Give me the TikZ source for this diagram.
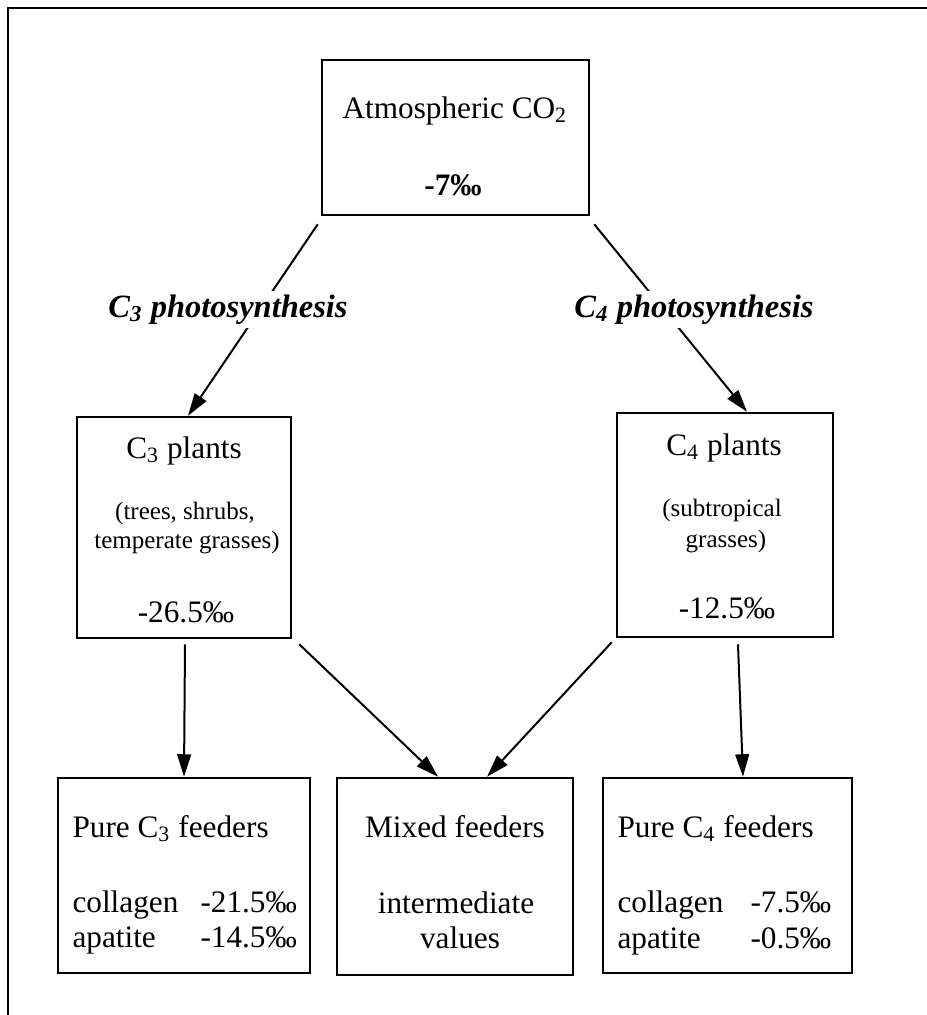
\documentclass[tikz,border=0pt]{standalone}
\usepackage{fontspec}
\setmainfont{Liberation Serif}
\usetikzlibrary{arrows.meta}
\newcommand{\pxu}{0.4pt}
\tikzstyle{box}=[draw,line width=1pt,inner sep=0pt]
\tikzstyle{edge}=[draw,line width=0.8pt,-{Triangle[length=9pt,width=5.5pt]}]
\tikzstyle{txt}=[inner sep=0pt,font=\fontsize{12.5}{15}\selectfont]
\tikzstyle{smalltxt}=[inner sep=0pt,font=\fontsize{10}{12}\selectfont]
\tikzstyle{route}=[fill=white,inner sep=1.5pt,font=\fontsize{13}{15}\selectfont\bfseries\itshape]

\begin{document}
\begin{tikzpicture}[x=\pxu,y=-\pxu]
    \useasboundingbox (0,0) rectangle (927,1015);

    % frame
    \draw[line width=1pt] (8,1015) -- (8,8) -- (927,8);

    % boxes
    \foreach \x/\y/\w/\h/\name in {455.5/137.5/267/155/atmco2, 184/527.5/214/221/cthree, 725/525/216/224/cfour,
                                 184/875.5/252/195/purethree, 455/876.5/236/197/mixed, 727.5/875.5/249/195/purefour}
        \node[box, minimum width=\w*\pxu, minimum height=\h*\pxu] (\name) at (\x,\y) {};

    % texts
    \node[txt, anchor=base] (atmname) at (455,118) {Atmospheric CO\textsubscript{2}};
    \node[txt, anchor=base, font=\fontsize{12.5}{15}\selectfont\bfseries] (atmval) at (453,195) {-7‰};

    \node[txt, anchor=base] (cthreename) at (184,458) {C\textsubscript{3} plants};
    \node[smalltxt, anchor=base] (cthreekind) at (185,519) {(trees, shrubs,};
    \node[smalltxt, anchor=base] (cthreekindb) at (187,548) {temperate grasses)};
    \node[txt, anchor=base] (cthreeval) at (186,622) {-26.5‰};

    \node[txt, anchor=base] (cfourname) at (724,455) {C\textsubscript{4} plants};
    \node[smalltxt, anchor=base] (cfourkind) at (722,516) {(subtropical};
    \node[smalltxt, anchor=base] (cfourkindb) at (726,547) {grasses)};
    \node[txt, anchor=base] (cfourval) at (727,618) {-12.5‰};

    \node[txt, anchor=base west] (purethreename) at (72,837) {Pure C\textsubscript{3} feeders};
    \node[txt, anchor=base west] (purethreecol) at (72,912) {collagen};
    \node[txt, anchor=base west] (purethreecolv) at (200,912) {-21.5‰};
    \node[txt, anchor=base west] (purethreeapa) at (72,947) {apatite};
    \node[txt, anchor=base west] (purethreeapav) at (200,947) {-14.5‰};

    \node[txt, anchor=base] (mixedname) at (455,837) {Mixed feeders};
    \node[txt, anchor=base] (mixedval) at (456,913) {intermediate};
    \node[txt, anchor=base] (mixedvalb) at (460,948) {values};

    \node[txt, anchor=base west] (purefourname) at (617,837) {Pure C\textsubscript{4} feeders};
    \node[txt, anchor=base west] (purefourcol) at (617,912) {collagen};
    \node[txt, anchor=base west] (purefourcolv) at (750,912) {-7.5‰};
    \node[txt, anchor=base west] (purefourapa) at (617,948) {apatite};
    \node[txt, anchor=base west] (purefourapav) at (750,948) {-0.5‰};

    % arrows
    \path[edge] ([shift={(-3,8)}]atmco2.south west) -- ([shift={(4,0)}]cthree.north);
    \path[edge] ([shift={(4,8)}]atmco2.south east) -- ([shift={(22,0)}]cfour.north);
    \path[edge] ([shift={(1,5)}]cthree.south) -- (purethree.north);
    \path[edge] ([shift={(13,6)}]cfour.south) -- ([shift={(15.5,0)}]purefour.north);
    \path[edge] ([shift={(7,5)}]cthree.south east) -- ([shift={(-17,0)}]mixed.north);
    \path[edge] ([shift={(-4,4)}]cfour.south west) -- ([shift={(32,0)}]mixed.north);

    \node[route, anchor=base] (cthreeroute) at (228,317) {C\textsubscript{3} photosynthesis};
    \node[route, anchor=base] (cfourroute) at (694,317) {C\textsubscript{4} photosynthesis};

\end{tikzpicture}
\end{document}
